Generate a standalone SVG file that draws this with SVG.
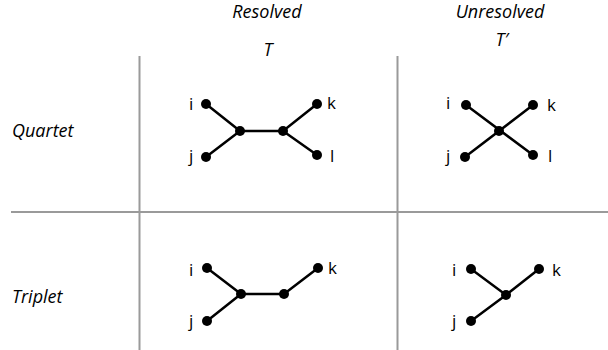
<svg xmlns="http://www.w3.org/2000/svg" width="608" height="350" viewBox="0 0 608 350">
<style>
.grid{stroke:#9a9a9a;stroke-width:2;fill:none}
.edge{stroke:#000;stroke-width:2.5;fill:none}
.dot{fill:#000}
.hd{font-family:"Open Sans","DejaVu Sans",sans-serif;font-style:italic;font-size:18px;fill:#000}
.lb{font-family:"Open Sans","DejaVu Sans",sans-serif;font-size:17px;fill:#000}
</style>
<rect width="608" height="350" fill="#fff"/>
<g id="grid">
<line class="grid" x1="11" y1="212" x2="608" y2="212"/>
<line class="grid" x1="139.5" y1="56" x2="139.5" y2="350"/>
<line class="grid" x1="397.5" y1="56" x2="397.5" y2="350"/>
</g>
<g id="headers">
<text class="hd" x="267" y="18" text-anchor="middle">Resolved</text>
<text class="hd" x="268" y="56" text-anchor="middle">T</text>
<text class="hd" x="500" y="18" text-anchor="middle">Unresolved</text>
<text class="hd" x="502" y="46" text-anchor="middle">T′</text>
<text class="hd" x="12" y="137">Quartet</text>
<text class="hd" x="12" y="303">Triplet</text>
</g>
<g id="connectors">
<path class="edge" d="M206,104 L240,131 L283,131 L317,104 M206,157 L240,131 M283,131 L317,155"/>
<path class="edge" d="M466,105 L533,155 M465,157 L533,105"/>
<path class="edge" d="M207,268 L241,294 L284,294 L318,268 M207,321 L241,294"/>
<path class="edge" d="M471,269 L506,295 L539,269 M471,321 L506,295"/>
</g>
<g id="resolved-quartet">
<circle class="dot" cx="206" cy="104" r="5"/><circle class="dot" cx="206" cy="157" r="5"/>
<circle class="dot" cx="240" cy="131" r="5"/><circle class="dot" cx="283" cy="131" r="5"/>
<circle class="dot" cx="317" cy="104" r="5"/><circle class="dot" cx="317" cy="155" r="5"/>
<text class="lb" x="189" y="110">i</text><text class="lb" x="189" y="162">j</text>
<text class="lb" x="327" y="109">k</text><text class="lb" x="330" y="162">l</text>
</g>
<g id="unresolved-quartet">
<circle class="dot" cx="466" cy="105" r="5"/><circle class="dot" cx="465" cy="157" r="5"/>
<circle class="dot" cx="499" cy="131" r="5"/>
<circle class="dot" cx="533" cy="105" r="5"/><circle class="dot" cx="533" cy="155" r="5"/>
<text class="lb" x="446" y="109">i</text><text class="lb" x="446" y="162">j</text>
<text class="lb" x="547" y="111">k</text><text class="lb" x="548" y="162">l</text>
</g>
<g id="resolved-triplet">
<circle class="dot" cx="207" cy="268" r="5"/><circle class="dot" cx="207" cy="321" r="5"/>
<circle class="dot" cx="241" cy="294" r="5"/><circle class="dot" cx="284" cy="294" r="5"/>
<circle class="dot" cx="318" cy="268" r="5"/>
<text class="lb" x="189" y="276">i</text><text class="lb" x="189" y="327">j</text>
<text class="lb" x="328" y="274">k</text>
</g>
<g id="unresolved-triplet">
<circle class="dot" cx="471" cy="269" r="5"/><circle class="dot" cx="471" cy="321" r="5"/>
<circle class="dot" cx="506" cy="295" r="5"/><circle class="dot" cx="539" cy="269" r="5"/>
<text class="lb" x="452" y="276">i</text><text class="lb" x="452" y="327">j</text>
<text class="lb" x="552" y="276">k</text>
</g>
</svg>
